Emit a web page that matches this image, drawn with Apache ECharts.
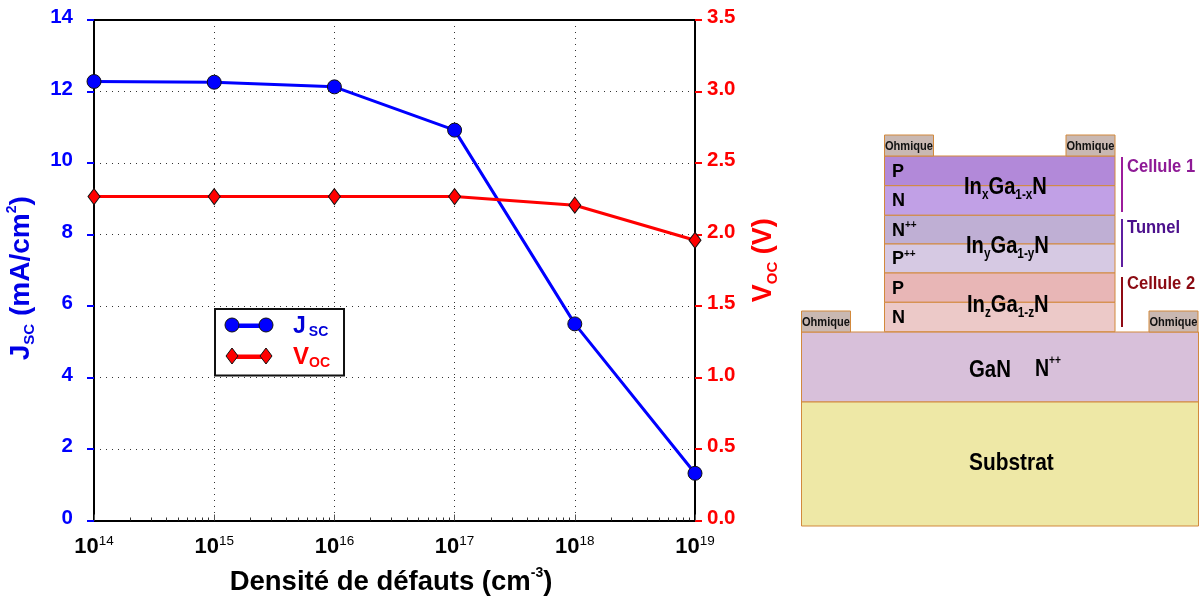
<!DOCTYPE html>
<html><head><meta charset="utf-8">
<style>html,body{margin:0;padding:0;background:#fff}#c{width:1202px;height:599px}</style>
<script src="https://cdn.jsdelivr.net/npm/echarts@6/dist/echarts.min.js"></script>
</head><body><div id="c"></div>
<script>
const exponents = [14, 15, 16, 17, 18, 19];
const jsc = [12.28, 12.26, 12.13, 10.92, 5.5, 1.32];
const voc = [2.265, 2.265, 2.265, 2.265, 2.205, 1.96];
const jTicks = [0, 14, 2];
const vTicks = [0, 3.5, 0.5];
const mesaLayers = ['P', 'N', 'N++', 'P++', 'P', 'N'];
const ohmicLabel = 'Ohmique';

const F = '"Liberation Sans", Arial, sans-serif';
const BLUE = '#0000ff', RED = '#ff0000', EDGE = '#d2893c';
const pts = arr => arr.map((v, i) => [Math.pow(10, exponents[i]), v]);

const g = [];
const rect = (x, y, w, h, fill, stroke) => g.push({type:'rect', z:5, shape:{x, y, width:w, height:h},
  style:{fill, stroke: stroke || EDGE, lineWidth:1}});
const vline = (x, y1, y2, c) => g.push({type:'line', z:5, shape:{x1:x, y1, x2:x, y2}, style:{stroke:c, lineWidth:2}});
const text = (x, y, t, font, fill, extra) => g.push(Object.assign({type:'text', z:6, x, y,
  style:Object.assign({text:t, font, fill, align:'left', verticalAlign:'middle'}, extra && extra.style)}, extra && extra.el));
const richF = {
  b:{fontFamily:F, fontWeight:'bold', fontSize:24, lineHeight:30, fill:'#000'},
  s:{fontFamily:F, fontWeight:'bold', fontSize:14, lineHeight:12, verticalAlign:'bottom', fill:'#000'},
  p:{fontFamily:F, fontWeight:'bold', fontSize:18, lineHeight:20, fill:'#000'},
  u:{fontFamily:F, fontWeight:'bold', fontSize:10, lineHeight:12, verticalAlign:'top', fill:'#000'}
};

// schematic
const layerY = [156, 185.7, 215.3, 244, 273, 302.3, 331.7];
const layerFill = ['#b289d9', '#c1a0e6', '#bfafd4', '#d6c9e3', '#e8b6b6', '#ecc9c8'];
rect(801.5, 332, 397, 70, '#d8c0da');
rect(801.5, 402, 397, 124, '#eee8a6');
mesaLayers.forEach((n, i) => {
  rect(884.5, layerY[i], 230.5, layerY[i+1]-layerY[i], layerFill[i]);
  const t = n.endsWith('++') ? `{p|${n[0]}}{u|++}` : `{p|${n}}`;
  text(892, (layerY[i]+layerY[i+1])/2 + 1, t, '', '#000', {style:{rich:richF}});
});
[[884.5,135],[1066,135],[801.5,311],[1149,311]].forEach(([x,y]) => {
  rect(x, y, 49, 21, '#c9b8b2');
  text(x+0.5, y+11, ohmicLabel, `bold 13.5px ${F}`, '#111', {el:{scaleX:0.82}});
});
[[964,187,'x'],[966,246,'y'],[967,305,'z']].forEach(([x,y,v]) => {
  text(x, y, `{b|In}{s|${v}}{b|Ga}{s|1-${v}}{b|N}`, '', '#000', {style:{rich:richF}, el:{scaleX:0.84}});
});
text(969, 370, 'GaN', `bold 24px ${F}`, '#000', {el:{scaleX:0.85}});
text(1035, 370, '{b|N}{u|++}', '', '#000', {el:{scaleX:0.85}, style:{rich:{b:Object.assign({},richF.b,{fontSize:23}),u:Object.assign({},richF.u,{fontSize:12})}}});
text(969, 463, 'Substrat', `bold 24px ${F}`, '#000', {el:{scaleX:0.87}});
vline(1122, 157, 212, '#9b1c9b');
vline(1122, 219, 267, '#5e1ea0');
vline(1122, 277, 327, '#8f0a14');
text(1127, 167, 'Cellule 1', `bold 18px ${F}`, '#8e1a96', {el:{scaleX:0.92}});
text(1127, 228, 'Tunnel', `bold 18px ${F}`, '#4b0f8c', {el:{scaleX:0.92}});
text(1127, 284, 'Cellule 2', `bold 18px ${F}`, '#8b0a12', {el:{scaleX:0.92}});

// legend key glyphs: a line with a marker at each end
g.push({type:'line', z:20, shape:{x1:232,y1:325,x2:266,y2:325}, style:{stroke:BLUE, lineWidth:3}});
g.push({type:'line', z:20, shape:{x1:232,y1:356,x2:266,y2:356}, style:{stroke:RED, lineWidth:3}});
[232,266].forEach(cx => g.push({type:'circle', z:21, shape:{cx, cy:325, r:7},
  style:{fill:BLUE, stroke:'#111', lineWidth:1}}));
[232,266].forEach(cx => g.push({type:'polygon', z:21,
  shape:{points:[[cx-6,356],[cx,348],[cx+6,356],[cx,364]]}, style:{fill:RED, stroke:'#111', lineWidth:1}}));

const axTitle = (c, size) => ({
  m:{fontFamily:F, fontWeight:'bold', fontSize:size, color:c, lineHeight:32},
  s:{fontFamily:F, fontWeight:'bold', fontSize:15, color:c, lineHeight:14, verticalAlign:'bottom'},
  e:{fontFamily:F, fontWeight:'bold', fontSize:14, color:c, lineHeight:14, verticalAlign:'top'}
});
const labelFont = {fontFamily:F, fontWeight:'bold', fontSize:20.5, verticalAlign:'bottom', lineHeight:5};
const yAxisCommon = (c) => ({
  type:'value', axisLine:{show:true, onZero:false, lineStyle:{color:'#000', width:2}},
  axisTick:{show:true, inside:false, length:7, lineStyle:{color:c, width:2}},
  nameLocation:'middle', nameRotate:90
});

const option = {
  animation:false, backgroundColor:'#fff',
  grid:{left:94, top:20, width:601, height:500.5, show:false, outerBoundsMode:'none'},
  legend:{
    left:215, top:309, orient:'vertical', padding:[6,14,5,17], itemGap:6,
    backgroundColor:'#fff', borderColor:'#111', borderWidth:2, borderRadius:0,
    itemWidth:34, itemHeight:3, symbolKeepAspect:false, selectedMode:false,
    itemStyle:{borderWidth:0},
    data:[{name:'Jsc', icon:'rect'},{name:'Voc', icon:'rect'}],
    formatter:n => n === 'Jsc' ? '{ja|J}{js|SC}' : '{va|V}{vs|OC}',
    textStyle:{rich:{
      ja:{fontFamily:F, fontWeight:'bold', fontSize:23, color:'#0000d8', lineHeight:26, padding:[0,3,0,22]},
      js:{fontFamily:F, fontWeight:'bold', fontSize:14, color:'#0000d8', lineHeight:14, verticalAlign:'bottom'},
      va:{fontFamily:F, fontWeight:'bold', fontSize:24, color:RED, lineHeight:26, padding:[0,0,0,22]},
      vs:{fontFamily:F, fontWeight:'bold', fontSize:14, color:RED, lineHeight:14, verticalAlign:'bottom'}
    }}
  },
  xAxis:{
    type:'log', logBase:10, min:1e14, max:1e19, position:'bottom',
    axisLine:{show:true, onZero:false, lineStyle:{color:'#000', width:2}},
    axisTick:{show:true, inside:true, length:6, lineStyle:{color:'#555', width:1}},
    minorTick:{show:true, splitNumber:9, length:3, lineStyle:{color:'#333', width:1}},
    splitLine:{show:true, lineStyle:{color:'#333', type:[1,5], width:1}},
    minorSplitLine:{show:false},
    axisLabel:{margin:14, showMinLabel:true, showMaxLabel:true,
      formatter:v => `{b|10}{e|${Math.round(Math.log10(v))}}`,
      rich:{
        b:{fontFamily:F, fontWeight:'bold', fontSize:22, color:'#000', lineHeight:24},
        e:{fontFamily:F, fontWeight:'normal', fontSize:13.5, color:'#000', lineHeight:14, verticalAlign:'top'}
      }},
    name:'{m|Densité de défauts (cm}{e|-3}{m|)}', nameLocation:'middle', nameGap:46,
    nameTextStyle:{padding:[0,7,0,0], rich:axTitle('#000', 27.5)}
  },
  yAxis:[
    Object.assign(yAxisCommon(BLUE), {
      position:'left', min:jTicks[0], max:jTicks[1], interval:jTicks[2],
      axisLabel:Object.assign({color:BLUE, margin:21}, labelFont),
      splitLine:{show:true, lineStyle:{color:'#333', type:[1,5], width:1}},
      name:'{m|J}{s|SC}{m| (mA/cm}{e|2}{m|)}', nameGap:57,
      nameTextStyle:{padding:[0,16,0,0], rich:axTitle('#0000e6', 28)}
    }),
    Object.assign(yAxisCommon(RED), {
      position:'right', min:vTicks[0], max:vTicks[1], interval:vTicks[2],
      splitLine:{show:false},
      axisLabel:Object.assign({color:RED, margin:12, formatter:v => v.toFixed(1)}, labelFont),
      name:'{m|V}{s|OC}{m| (V)}', nameGap:53, nameRotate:90,
      nameTextStyle:{padding:[0,0,0,20], rich:axTitle(RED, 27)}
    })
  ],
  series:[
    {name:'Jsc', type:'line', yAxisIndex:0, data:pts(jsc), clip:false, symbol:'circle', symbolSize:14, z:5,
      lineStyle:{color:BLUE, width:3}, itemStyle:{color:BLUE, borderColor:'#111', borderWidth:1}},
    {name:'Voc', type:'line', yAxisIndex:1, data:pts(voc), clip:false, symbol:'diamond', symbolSize:[12,16], z:6,
      lineStyle:{color:RED, width:3}, itemStyle:{color:RED, borderColor:'#111', borderWidth:1}}
  ],
  graphic:{elements:[
    {type:'line', z:1, silent:true, shape:{x1:94,y1:20,x2:695,y2:20}, style:{stroke:'#000',lineWidth:2}},
    ...g
  ]}
};
echarts.init(document.getElementById('c'), null, {renderer:'canvas'}).setOption(option);
</script></body></html>
